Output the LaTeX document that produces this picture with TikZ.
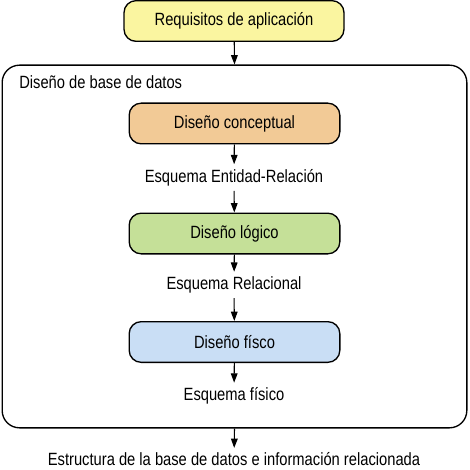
\documentclass[tikz,border=0pt]{standalone}
\usepackage{fontspec}
\setmainfont{Liberation Sans}[FakeStretch=0.83]
\usetikzlibrary{arrows.meta}
\definecolor{reqyellow}{RGB}{250,245,160}
\definecolor{concorange}{RGB}{242,202,150}
\definecolor{loggreen}{RGB}{197,224,152}
\definecolor{fisblue}{RGB}{201,222,245}
\tikzstyle{every node}=[font=\fontsize{13.3}{15}\selectfont, inner sep=3.5pt]
\tikzstyle{etapa}=[draw, line width=1pt, rounded corners=9pt, minimum width=158pt, minimum height=30.5pt]
\tikzset{flecha/.style={-{Triangle[length=7pt,width=5pt]}, line width=0.8pt}}

\begin{document}
\begin{tikzpicture}[x=0.75pt, y=-0.75pt]
		\useasboundingbox (0,0) rectangle (469,470);
		\node[draw, line width=1pt, rounded corners=13pt, minimum width=348.5pt, minimum height=272pt] (bd) at (234.5,246.5) {};
		\node[anchor=west, inner sep=0pt] (bdtit) at (19,82) {Diseño de base de datos};
		\node[etapa, fill=reqyellow, minimum width=165pt] (req) at (234,21) {Requisitos de aplicación};
		\node[etapa, fill=concorange] (conc) at (234.5,123.5) {Diseño conceptual};
		\node (er) at (234,177.5) {Esquema Entidad-Relación};
		\node[etapa, fill=loggreen] (log) at (234.5,233.5) {Diseño lógico};
		\node (rel) at (234,285) {Esquema Relacional};
		\node[etapa, fill=fisblue] (fis) at (234.5,342) {Diseño físco};
		\node (esqfis) at (234,396) {Esquema físico};
		\node (estr) at (234,459.5) {Estructura de la base de datos e información relacionada};
		\draw[flecha] (req) to (bd.north);
		\draw[flecha] (conc) to (er);
		\draw[flecha] (er) to (log);
		\draw[flecha] (log) to (rel);
		\draw[flecha] (rel) to (fis);
		\draw[flecha] (fis) to (esqfis);
		\draw[flecha] (bd.south) to (estr);
		\end{tikzpicture}
\end{document}
